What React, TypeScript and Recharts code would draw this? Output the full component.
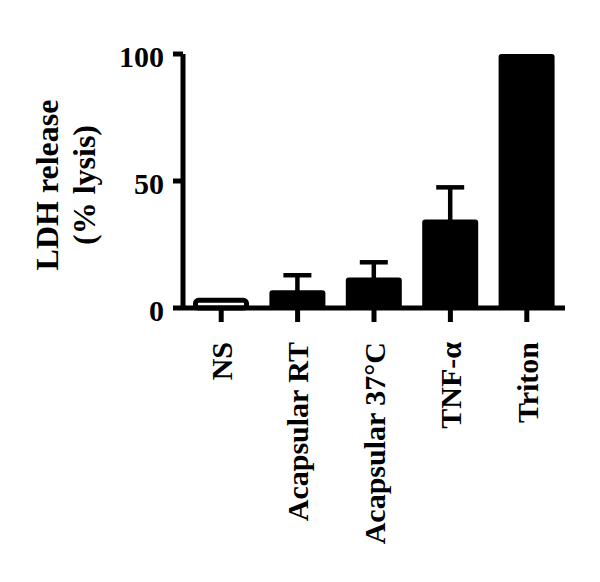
import React from 'react';
import { BarChart, Bar, XAxis, YAxis, ErrorBar, Rectangle, Label } from 'recharts';

const categories = ['NS', 'Acapsular RT', 'Acapsular 37°C', 'TNF-α', 'Triton'];
const lysis = [4, 7, 12, 34.8, 100];
// upward error (SEM); null where no error bar is drawn
const errUp: (number | null)[] = [null, 5.9, 6, 12.7, null];
const fills = ['#ffffff', '#000000', '#000000', '#000000', '#000000'];
const yTicks = [0, 50, 100];

// one-sided (upward) error bars: the lower whisker end stays hidden inside the solid bar
const HIDDEN_LOW = 3;
const data = categories.map((c, i) => ({
  name: c,
  value: lysis[i],
  err: errUp[i] == null ? null : [HIDDEN_LOW, errUp[i] as number],
}));

const FONT = "'Liberation Serif', 'Times New Roman', serif";

const BarShape = (props: any) => {
  const { x, y, width, height, payload } = props;
  const idx = categories.indexOf(payload?.name);
  const hollow = fills[idx] === '#ffffff';
  if (hollow) {
    const s = 5;
    return (
      <Rectangle
        x={x + s / 2}
        y={y + s / 2}
        width={width - s}
        height={height - s / 2}
        fill="#ffffff"
        stroke="#000000"
        strokeWidth={s}
        radius={3}
      />
    );
  }
  return <Rectangle x={x} y={y} width={width} height={height} fill={fills[idx]} radius={[3, 3, 0, 0]} />;
};

const XTick = (props: any) => {
  const { x, y, payload } = props;
  return (
    <text
      x={x}
      y={y}
      dy="0.36em"
      transform={`rotate(-90, ${x}, ${y})`}
      textAnchor="end"
      fontFamily={FONT}
      fontWeight="bold"
      fontSize={30}
      fill="#000"
    >
      {payload.value}
    </text>
  );
};

const YTick = (props: any) => {
  const { x, y, payload } = props;
  return (
    <text x={x} y={y} dy="0.43em" textAnchor="end" fontFamily={FONT} fontWeight="bold" fontSize={30} fill="#000">
      {payload.value}
    </text>
  );
};

const YLabel = (props: any) => {
  const vb = props.viewBox || { x: 0, y: 54, width: 183, height: 254 };
  const cy = vb.y + vb.height / 2 + 4;
  const lines = [
    { text: 'LDH release', x: 58 },
    { text: '(% lysis)', x: 95 },
  ];
  return (
    <g>
      {lines.map((l) => (
        <text
          key={l.text}
          x={l.x}
          y={cy}
          transform={`rotate(-90, ${l.x}, ${cy})`}
          textAnchor="middle"
          fontFamily={FONT}
          fontWeight="bold"
          fontSize={32}
          fill="#000"
        >
          {l.text}
        </text>
      ))}
    </g>
  );
};

export default function App() {
  return (
    <div style={{ position: 'absolute', left: 0, top: 0, width: 600, height: 582, background: '#fff' }}>
      <BarChart width={600} height={582} data={data} margin={{ top: 54, right: 35, left: 0, bottom: 0 }}>
        <XAxis
          dataKey="name"
          interval={0}
          height={274}
          tickSize={14}
          tickMargin={20}
          axisLine={{ stroke: '#000', strokeWidth: 5 }}
          tickLine={{ stroke: '#000', strokeWidth: 5 }}
          tick={<XTick />}
        />
        <YAxis
          width={183}
          domain={[0, 100]}
          ticks={yTicks}
          tickSize={10}
          tickMargin={9}
          axisLine={{ stroke: '#000', strokeWidth: 5 }}
          tickLine={{ stroke: '#000', strokeWidth: 5 }}
          tick={<YTick />}
          label={<Label content={(p: any) => <YLabel viewBox={p.viewBox} />} />}
        />
        <Bar dataKey="value" barSize={56} isAnimationActive={false} shape={<BarShape />}>
          <ErrorBar dataKey="err" direction="y" width={14} strokeWidth={4.5} stroke="#000" />
        </Bar>
      </BarChart>
    </div>
  );
}
